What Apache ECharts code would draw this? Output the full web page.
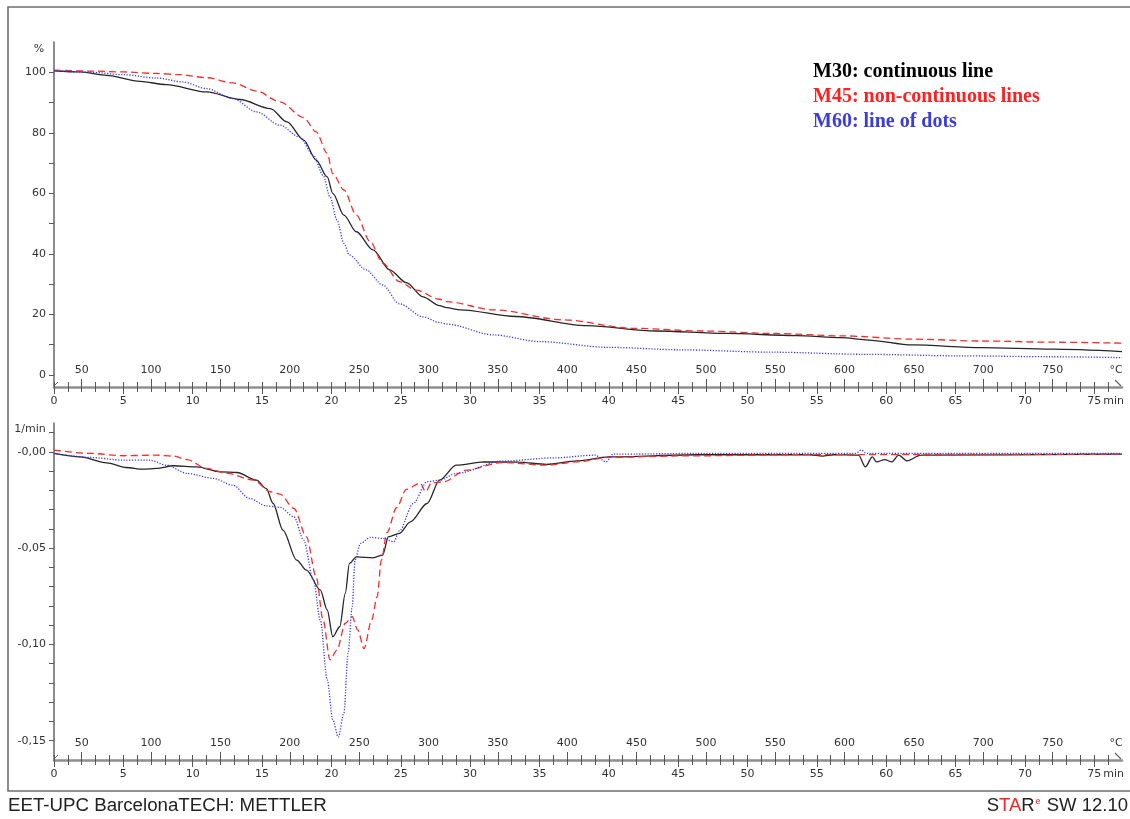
<!DOCTYPE html>
<html><head><meta charset="utf-8">
<script src="https://cdn.jsdelivr.net/npm/echarts@6/dist/echarts.min.js"></script>
<style>html,body{margin:0;padding:0;background:#fff}#c{width:1130px;height:819px}</style>
</head><body><div id="c"></div>
<script>
// ---- tick / label values ----
const TIME_LABELS = [0,5,10,15,20,25,30,35,40,45,50,55,60,65,70,75];
const TIME_MINOR = [0,1,2,3,4,5,6,7,8,9,10,11,12,13,14,15,16,17,18,19,20,21,22,23,24,25,26,27,28,29,30,31,32,33,34,35,36,37,38,39,40,41,42,43,44,45,46,47,48,49,50,51,52,53,54,55,56,57,58,59,60,61,62,63,64,65,66,67,68,69,70,71,72,73,74,75,76];
const TEMP_LABELS = [50,100,150,200,250,300,350,400,450,500,550,600,650,700,750];
const TG_LABELS = [0,20,40,60,80,100];
const TG_TICKS = [0,10,20,30,40,50,60,70,80,90,100];
const DTG_LABELS = [0,-0.05,-0.10,-0.15];
const DTG_LABEL_TEXT = ['-0,00','-0,05','-0,10','-0,15'];
const DTG_TICKS = [0.01,0,-0.01,-0.02,-0.03,-0.04,-0.05,-0.06,-0.07,-0.08,-0.09,-0.10,-0.11,-0.12,-0.13,-0.14,-0.15];

// ---- series names ----
const NAMES = ['M30: continuous line','M45: non-continuous lines','M60: line of dots'];

// ---- TG curves: [time min, mass %] ----
const M30_TG = [[0,100.5],[1.9,100.1],[3.8,99.0],[6.2,97.0],[8.1,95.9],[11.0,93.5],[13.4,91.0],[15.6,88.0],[16.8,83.6],[18.0,77.6],[18.9,71.0],[19.7,65.4],[20.1,60.0],[20.9,52.8],[21.8,47.3],[23.0,41.3],[24.2,34.7],[25.4,30.5],[26.6,25.8],[27.8,22.9],[28.3,22.2],[29.3,21.5],[33.3,19.3],[38.4,16.3],[43.4,14.5],[48.4,13.7],[53.5,13.0],[56.8,12.3],[58.5,11.6],[61.9,9.9],[66.9,9.0],[71.9,8.5],[77,7.7]];
const M45_TG = [[0,100.7],[2.6,100.4],[5.0,100.1],[7.4,99.6],[9.1,99.2],[11.0,98.2],[12.9,96.5],[14.6,93.8],[16.3,90.2],[18.0,85.0],[18.9,80.3],[19.7,73.2],[20.1,66.5],[20.9,61.1],[21.8,52.8],[22.8,44.0],[23.7,36.9],[24.9,30.8],[26.1,28.0],[27.8,25.0],[28.3,24.2],[31.7,21.5],[36.7,18.2],[41.7,15.4],[46.8,14.5],[51.8,13.7],[56.8,12.9],[61.9,11.8],[66.9,11.2],[71.9,10.8],[77,10.5]];
const M60_TG = [[0,100.5],[2.6,100.0],[5.0,99.2],[7.4,98.1],[9.3,96.8],[11.0,94.6],[12.9,91.3],[14.6,86.9],[16.3,82.5],[17.7,78.6],[18.7,72.6],[19.4,66.0],[19.9,58.8],[20.4,51.2],[20.9,43.5],[21.3,39.6],[22.5,34.7],[23.7,29.7],[24.9,23.5],[26.6,19.2],[27.8,17.3],[28.3,16.8],[31.7,13.2],[35.0,11.0],[40.0,9.1],[45.1,8.3],[51.8,7.5],[58.5,6.8],[65.2,6.3],[71.9,6.0],[77,5.7]];

// ---- DTG curves: [time min, 1/min] ----
const M30_DTG = [[0,-0.0008],[1.9,-0.0026],[3.8,-0.0057],[5.2,-0.0081],[6.4,-0.0090],[7.4,-0.0086],[8.6,-0.0072],[10.3,-0.0078],[12.0,-0.0104],[13.2,-0.0107],[14.6,-0.0147],[15.3,-0.0190],[15.8,-0.0268],[16.5,-0.0406],[17.5,-0.0562],[18.2,-0.0614],[19.2,-0.0717],[19.7,-0.0821],[20.1,-0.0960],[20.6,-0.0908],[21.0,-0.0735],[21.3,-0.0579],[21.8,-0.0545],[23.0,-0.0550],[23.7,-0.0536],[24.1,-0.0441],[24.9,-0.0423],[25.7,-0.0363],[26.9,-0.0268],[27.8,-0.0147],[29.0,-0.0069],[31.0,-0.0052],[33.5,-0.0053],[35.5,-0.0065],[37.7,-0.0047],[40.0,-0.0026],[46.4,-0.0015],[54.5,-0.0015],[55.4,-0.0022],[56.2,-0.0015],[58.0,-0.0017],[58.5,-0.0078],[59.0,-0.0026],[59.3,-0.0052],[59.9,-0.0040],[60.4,-0.0052],[60.9,-0.0017],[61.5,-0.0047],[62.5,-0.0017],[77,-0.0012]];
const M45_DTG = [[0,0.0009],[2.6,-0.0008],[5.0,-0.0020],[7.4,-0.0017],[8.6,-0.0022],[9.6,-0.0040],[11.0,-0.0086],[12.5,-0.0112],[14.4,-0.0147],[15.6,-0.0207],[16.3,-0.0219],[17.3,-0.0294],[18.2,-0.0441],[18.9,-0.0648],[19.4,-0.0873],[19.9,-0.1080],[20.4,-0.1029],[21.0,-0.0890],[21.5,-0.0856],[21.9,-0.0925],[22.35,-0.1022],[22.9,-0.0873],[23.3,-0.0752],[23.6,-0.0562],[24.0,-0.0420],[24.7,-0.0290],[25.4,-0.0195],[26.4,-0.0162],[26.8,-0.0207],[27.2,-0.0162],[28.1,-0.0155],[29.7,-0.0095],[32.3,-0.0055],[35.5,-0.0069],[37.7,-0.0052],[40.0,-0.0029],[45.1,-0.0021],[55.0,-0.0014],[77,-0.0012]];
const M60_DTG = [[0,-0.0008],[2.6,-0.0029],[5.0,-0.0043],[6.9,-0.0043],[8.1,-0.0069],[9.6,-0.0112],[11.5,-0.0138],[12.9,-0.0173],[14.1,-0.0242],[15.3,-0.0280],[16.3,-0.0288],[17.3,-0.0337],[18.0,-0.0458],[18.7,-0.0665],[19.2,-0.0873],[19.7,-0.1184],[20.1,-0.1392],[20.5,-0.1481],[20.9,-0.1357],[21.2,-0.1046],[21.5,-0.0804],[21.7,-0.0562],[22.1,-0.0475],[22.8,-0.0444],[23.7,-0.0449],[24.5,-0.0467],[24.9,-0.0410],[25.9,-0.0268],[26.9,-0.0155],[27.8,-0.0147],[29.0,-0.0112],[32.3,-0.0048],[36.1,-0.0031],[39.0,-0.0017],[39.8,-0.0052],[40.3,-0.0012],[46.4,-0.0008],[57.8,-0.0008],[58.2,0.0009],[58.6,-0.0008],[77,-0.0008]];

const FONT = 'DejaVu Sans';
const TXT = '#333';
const AXIS_GRAY = '#8e8e8e';

function xAxesFor(g){
  const base = {gridIndex:g, type:'value', position:'bottom', splitLine:{show:false}};
  return [
    Object.assign({}, base, {min:0, max:77,
      axisLine:{show:true, onZero:false, lineStyle:{color:AXIS_GRAY, width:2.5}},
      axisTick:{show:true, inside:false, length:7, customValues:TIME_LABELS, lineStyle:{color:'#555'}},
      axisLabel:{show:true, inside:false, margin:9, customValues:TIME_LABELS, fontFamily:FONT, fontSize:11, color:TXT}}),
    Object.assign({}, base, {min:30, max:800,
      axisLine:{show:false, onZero:false},
      axisTick:{show:true, inside:true, length:8, customValues:TEMP_LABELS, lineStyle:{color:'#555'}},
      axisLabel:{show:true, inside:true, margin:11, customValues:TEMP_LABELS, fontFamily:FONT, fontSize:11, color:TXT}}),
    Object.assign({}, base, {min:0, max:77,
      axisLine:{show:false, onZero:false},
      axisTick:{show:true, inside:true, length:5, customValues:TIME_MINOR, lineStyle:{color:'#555'}},
      axisLabel:{show:false}}),
    Object.assign({}, base, {min:0, max:77,
      axisLine:{show:false, onZero:false},
      axisTick:{show:true, inside:false, length:5, customValues:TIME_MINOR, lineStyle:{color:'#555'}},
      axisLabel:{show:false}})
  ];
}

function line(name, data, xi, yi, kind){
  const styles = {
    solid:{color:'#262626', width:1.3, type:'solid'},
    dash:{color:'#ff2a2a', width:1.3, type:[7,4]},
    dot:{color:'#3434ff', width:1.3, type:[1.2,1.6]}
  };
  const s = styles[kind];
  return {name, type:'line', data, xAxisIndex:xi, yAxisIndex:yi, showSymbol:false, symbol:'none',
    smooth:0.3, smoothMonotone:'x', color:s.color, lineStyle:s, animation:false, silent:true};
}

const chart = echarts.init(document.getElementById('c'), null, {renderer:'canvas'});
chart.setOption({
  backgroundColor:'#fff',
  animation:false,
  grid:[
    {left:54, top:42, width:1068, height:345},
    {left:54, top:423, width:1068, height:337}
  ],
  xAxis: xAxesFor(0).concat(xAxesFor(1)),
  yAxis:[
    {gridIndex:0, type:'value', min:-4, max:110, splitLine:{show:false},
      axisLine:{show:true, onZero:false, lineStyle:{color:'#666', width:1.5}},
      axisTick:{show:true, length:5, customValues:TG_TICKS, lineStyle:{color:'#555'}},
      axisLabel:{customValues:TG_LABELS, margin:8, fontFamily:FONT, fontSize:11, color:TXT}},
    {gridIndex:1, type:'value', min:-0.16, max:0.015, splitLine:{show:false},
      axisLine:{show:true, onZero:false, lineStyle:{color:'#666', width:1.5}},
      axisTick:{show:true, length:5, customValues:DTG_TICKS, lineStyle:{color:'#555'}},
      axisLabel:{customValues:DTG_LABELS, margin:8, fontFamily:FONT, fontSize:11, color:TXT,
        formatter:function(v){
          let best=0, d=1e9;
          DTG_LABELS.forEach(function(l,i){ if(Math.abs(l-v)<d){d=Math.abs(l-v);best=i;} });
          return DTG_LABEL_TEXT[best];
        }}}
  ],
  legend:{show:true, orient:'vertical', left:803, top:57, icon:'none', itemWidth:0, itemHeight:0, itemGap:5,
    selectedMode:false,
    textStyle:{fontFamily:'Liberation Serif', fontWeight:'bold', fontSize:20, lineHeight:20},
    data:[
      {name:NAMES[0], textStyle:{color:'#000'}},
      {name:NAMES[1], textStyle:{color:'#ff2020'}},
      {name:NAMES[2], textStyle:{color:'#3c3cdc'}}
    ]},
  series:[
    line(NAMES[0], M30_TG, 0, 0, 'solid'),
    line(NAMES[1], M45_TG, 0, 0, 'dash'),
    line(NAMES[2], M60_TG, 0, 0, 'dot'),
    line(NAMES[0], M30_DTG, 4, 1, 'solid'),
    line(NAMES[1], M45_DTG, 4, 1, 'dash'),
    line(NAMES[2], M60_DTG, 4, 1, 'dot')
  ]
});

// unit labels and decorations placed from the axes
const unitStyle = {fontFamily:FONT, fontSize:11, fill:TXT};
const g = [];
[[0,387],[4,760]].forEach(function(a){
  const xi=a[0], axisY=a[1];
  const p75 = chart.convertToPixel({xAxisIndex:xi}, 75);
  const pEnd = chart.convertToPixel({xAxisIndex:xi}, 77);
  g.push({type:'text', x:p75+9, y:axisY+14, style:Object.assign({text:'min', textAlign:'left', textVerticalAlign:'middle'}, unitStyle)});
  g.push({type:'text', x:pEnd-6, y:axisY-17, style:Object.assign({text:'°C', textAlign:'center', textVerticalAlign:'middle'}, unitStyle)});
  g.push({type:'line', shape:{x1:pEnd-7, y1:axisY-7, x2:pEnd-1, y2:axisY-1}, style:{stroke:'#666', lineWidth:1.2}});
  g.push({type:'line', shape:{x1:55, y1:axisY-2, x2:58, y2:axisY-5}, style:{stroke:'#666', lineWidth:1}});
});
g.push({type:'text', x:39, y:49, style:Object.assign({text:'%', textAlign:'center', textVerticalAlign:'middle'}, unitStyle)});
g.push({type:'text', x:30, y:429, style:Object.assign({text:'1/min', textAlign:'center', textVerticalAlign:'middle'}, unitStyle)});
g.push({type:'rect', shape:{x:8, y:7, width:1140, height:784}, style:{fill:'none', stroke:'#6e6e6e', lineWidth:1.6}, silent:true});
g.push({type:'text', x:8, y:806, style:{text:'EET-UPC BarcelonaTECH: METTLER', fontFamily:'Liberation Sans', fontSize:18.7, fill:'#222', textAlign:'left', textVerticalAlign:'middle'}});
g.push({type:'text', x:1128, y:806, style:{text:'{k|S}{r|TA}{k|R}{s|e}{k| SW 12.10}', textAlign:'right', textVerticalAlign:'middle',
  rich:{k:{fontFamily:'Liberation Sans', fontSize:18.5, fill:'#222', color:'#222'},
        r:{fontFamily:'Liberation Sans', fontSize:18.5, fill:'#ff2020', color:'#ff2020'},
        s:{fontFamily:'Liberation Sans', fontSize:9, fill:'#ff2020', color:'#ff2020', padding:[0,1,9,1]}}}});
chart.setOption({graphic:g});
</script>
</body></html>
